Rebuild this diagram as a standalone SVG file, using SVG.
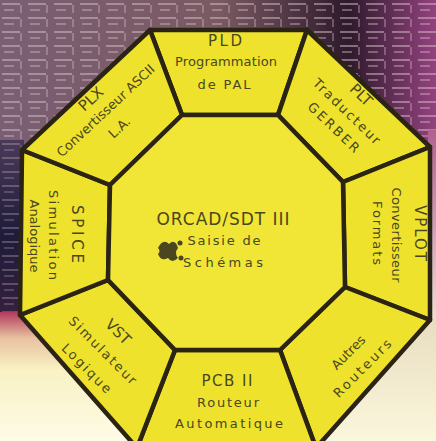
<svg xmlns="http://www.w3.org/2000/svg" width="436" height="441" viewBox="0 0 436 441">
  <defs>
    <style>
      .seg { fill: #eee22c; stroke: #2b2414; stroke-width: 4.5; stroke-linejoin: round; }
      .core { fill: #f1e636; stroke: #2b2414; stroke-width: 4.5; stroke-linejoin: round; }
      .t { font-family: "DejaVu Sans", "Liberation Sans", sans-serif; fill: #4a4720; text-anchor: middle; font-size: 13px; }
      .h { font-size: 15px; }
      .big { font-size: 17px; }
    </style>
    <linearGradient id="topbg" x1="0" y1="0" x2="1" y2="0">
      <stop offset="0" stop-color="#7a5f74"/>
      <stop offset="0.5" stop-color="#7a5a62"/>
      <stop offset="0.8" stop-color="#2e1a2c"/>
      <stop offset="1" stop-color="#94427e"/>
    </linearGradient>
    <linearGradient id="blbg" x1="0" y1="0" x2="0" y2="1">
      <stop offset="0" stop-color="#b23a5c"/>
      <stop offset="0.2" stop-color="#e8c0a0"/>
      <stop offset="0.45" stop-color="#f8f2c4"/>
      <stop offset="1" stop-color="#fffbe6"/>
    </linearGradient>
    <linearGradient id="brbg" x1="0" y1="0" x2="0" y2="1">
      <stop offset="0" stop-color="#e8dcc0"/>
      <stop offset="1" stop-color="#fbf7dc"/>
    </linearGradient>
    <linearGradient id="rbg" x1="0" y1="0" x2="0" y2="1">
      <stop offset="0" stop-color="#b0608e"/>
      <stop offset="0.6" stop-color="#d8b0c0"/>
      <stop offset="1" stop-color="#f0e4d0"/>
    </linearGradient>
    <linearGradient id="lbg" x1="0" y1="0" x2="0" y2="1">
      <stop offset="0" stop-color="#4a3a5a"/>
      <stop offset="0.5" stop-color="#1e1c3a"/>
      <stop offset="1" stop-color="#3a2040"/>
    </linearGradient>
    <pattern id="pcb" width="26" height="14" patternUnits="userSpaceOnUse">
      <rect x="2" y="3" width="18" height="2" fill="#d8c0c8" opacity="0.5"/>
      <rect x="4" y="9" width="10" height="2" fill="#d8c0c8" opacity="0.4"/>
      <rect x="20" y="5" width="2" height="8" fill="#d8c0c8" opacity="0.35"/>
    </pattern>
  </defs>

  <g id="background">
    <rect x="0" y="0" width="436" height="441" fill="#4a3346"/>
    <rect x="0" y="0" width="436" height="160" fill="url(#topbg)"/>
    <rect x="0" y="0" width="436" height="160" fill="url(#pcb)"/>
    <rect x="0" y="140" width="24" height="190" fill="url(#lbg)"/>
    <rect x="0" y="140" width="24" height="190" fill="url(#pcb)" opacity="0.6"/>
    <rect x="428" y="130" width="8" height="200" fill="url(#rbg)"/>
    <polygon points="0,312 22,312 142,441 0,441" fill="url(#blbg)"/>
    <polygon points="436,316 436,441 308,441" fill="url(#brbg)"/>
  </g>

  <g id="segments">
    <g id="seg-top">
      <polygon class="seg" points="150,30 307,30 278,115 182,115"/>
      <text class="t h" x="225" y="46" textLength="34" lengthAdjust="spacing">PLD</text>
      <text class="t" x="226" y="66" textLength="102" lengthAdjust="spacing">Programmation</text>
      <text class="t" x="224" y="89" textLength="53" lengthAdjust="spacing">de PAL</text>
    </g>
    <g id="seg-topright">
      <polygon class="seg" points="307,30 430,147 343,182 278,115"/>
      <g transform="translate(361,95) rotate(44)"><text class="t h" y="5">PLT</text></g>
      <g transform="translate(347,111) rotate(44)"><text class="t" y="5" textLength="88" lengthAdjust="spacing">Traducteur</text></g>
      <g transform="translate(334,127) rotate(44)"><text class="t" y="5" textLength="66" lengthAdjust="spacing">GERBER</text></g>
    </g>
    <g id="seg-right">
      <polygon class="seg" points="430,147 430,320 345,287 343,182"/>
      <g transform="translate(420,233) rotate(90)"><text class="t h" y="5" textLength="56" lengthAdjust="spacing">VPLOT</text></g>
      <g transform="translate(397,235) rotate(90)"><text class="t" y="5" textLength="95" lengthAdjust="spacing">Convertisseur</text></g>
      <g transform="translate(378,233) rotate(90)"><text class="t" y="5" textLength="64" lengthAdjust="spacing">Formats</text></g>
    </g>
    <g id="seg-bottomright">
      <polygon class="seg" points="430,320 316,448 280,350 345,287"/>
      <g transform="translate(348,352) rotate(-45)"><text class="t" y="5">Autres</text></g>
      <g transform="translate(362,368) rotate(-45)"><text class="t" y="5" textLength="76" lengthAdjust="spacing">Routeurs</text></g>
    </g>
    <g id="seg-bottom">
      <polygon class="seg" points="316,448 137,448 175,350 280,350"/>
      <text class="t h" x="227" y="386" textLength="51" lengthAdjust="spacing">PCB II</text>
      <text class="t" x="228" y="407" textLength="62" lengthAdjust="spacing">Routeur</text>
      <text class="t" x="229" y="428" textLength="108" lengthAdjust="spacing">Automatique</text>
    </g>
    <g id="seg-bottomleft">
      <polygon class="seg" points="137,448 20,315 108,280 175,350"/>
      <g transform="translate(118,332) rotate(45)"><text class="t h" y="5">VST</text></g>
      <g transform="translate(103,350) rotate(45)"><text class="t" y="5" textLength="90" lengthAdjust="spacing">Simulateur</text></g>
      <g transform="translate(87,368) rotate(45)"><text class="t" y="5" textLength="64" lengthAdjust="spacing">Logique</text></g>
    </g>
    <g id="seg-left">
      <polygon class="seg" points="20,315 22,150 110,185 108,280"/>
      <g transform="translate(77,234) rotate(90)"><text class="t h" y="5" textLength="58" lengthAdjust="spacing">SPICE</text></g>
      <g transform="translate(54,235) rotate(90)"><text class="t" y="5" textLength="90" lengthAdjust="spacing">Simulation</text></g>
      <g transform="translate(34,236) rotate(90)"><text class="t" y="4" font-size="12">Analogique</text></g>
    </g>
    <g id="seg-topleft">
      <polygon class="seg" points="22,150 150,30 182,115 110,185"/>
      <g transform="translate(91,99) rotate(-43)"><text class="t h" y="5">PLX</text></g>
      <g transform="translate(106,111) rotate(-43)"><text class="t" y="4" font-size="12">Convertisseur ASCII</text></g>
      <g transform="translate(119,127) rotate(-43)"><text class="t" y="5">L.A.</text></g>
    </g>
  </g>

  <g id="center">
    <polygon class="core" points="182,115 278,115 343,182 345,287 280,350 175,350 108,280 110,185"/>
    <text class="t big" x="223" y="225" textLength="133" lengthAdjust="spacing">ORCAD/SDT III</text>
    <text class="t" x="224" y="245" font-size="14" textLength="73" lengthAdjust="spacing">Saisie de</text>
    <text class="t" x="223" y="267" font-size="14" textLength="80" lengthAdjust="spacing">Schémas</text>
    <g id="logo" fill="#4a4720">
      <path d="M158,248 q5,-10 11,-4 q6,-6 9,4 q-4,5 0,10 q-6,6 -10,0 q-7,4 -10,-4 q3,-3 0,-6z"/>
      <circle cx="180" cy="243" r="2.5"/>
      <circle cx="181" cy="258" r="2.5"/>
    </g>
  </g>
</svg>
